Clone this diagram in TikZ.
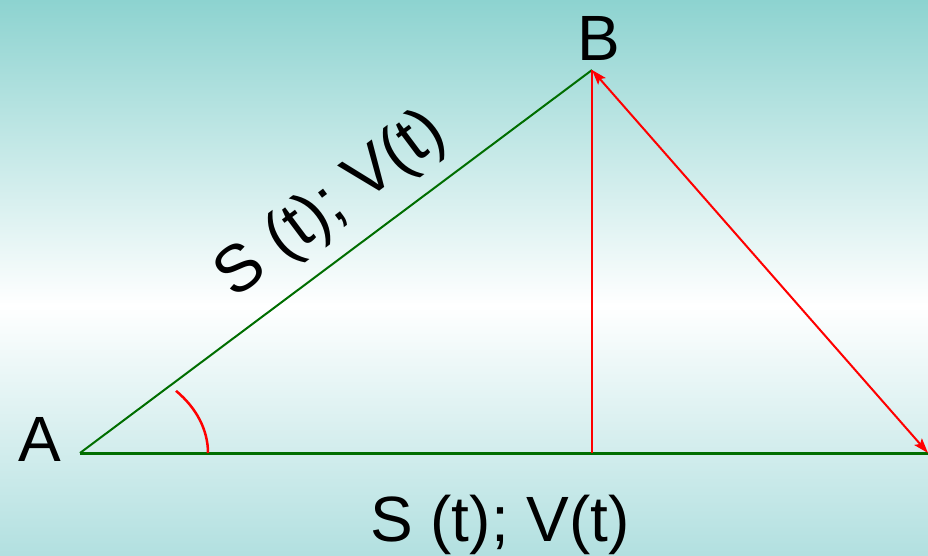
\documentclass[tikz,border=0pt]{standalone}
\usepackage{fontspec}
\setmainfont{Liberation Sans}
\usetikzlibrary{arrows.meta}
\definecolor{tealtop}{RGB}{141,211,208}
\definecolor{tealbot}{RGB}{178,224,224}
\definecolor{dgreen}{RGB}{0,110,0}
\begin{document}
\begin{tikzpicture}[x=1pt,y=-1pt,
  lbl/.style={inner sep=0pt, anchor=base, font=\fontsize{64}{70}\selectfont},
  greenline/.style={draw=dgreen},
  redline/.style={draw=red, line width=2pt},
  dblarrow/.style={>={Stealth[length=15pt,width=10pt,inset=3pt]}, <->}]
\useasboundingbox (0,0) rectangle (928,555);
\shade[top color=tealtop, bottom color=white] (0,0) rectangle (928,306);
\shade[top color=white, bottom color=tealbot] (0,305) rectangle (928,555);
\coordinate (a) at (80,453);
\coordinate (b) at (592,70);
\coordinate (c) at (928,453);
\coordinate (h) at (592,453);
\draw[greenline, line width=3pt] (a) -- (c);
\draw[greenline, line width=2pt] (a) -- (b);
\draw[redline] (h) -- (b);
\draw[redline, dblarrow] (b) -- (c);
\draw[draw=red, line width=2.5pt] (a) ++(128,0) arc[start angle=0, end angle=-41.4, x radius=128, y radius=94];
\node[lbl] (A) at (39.5,461) {A};
\node[lbl] (B) at (599,60) {B};
\node[lbl, rotate=36.8, font=\fontsize{66}{72}\selectfont] (hyp) at (342,219) {S (t); V(t)};
\node[lbl] (base) at (500,541) {S (t); V(t)};
\end{tikzpicture}
\end{document}
